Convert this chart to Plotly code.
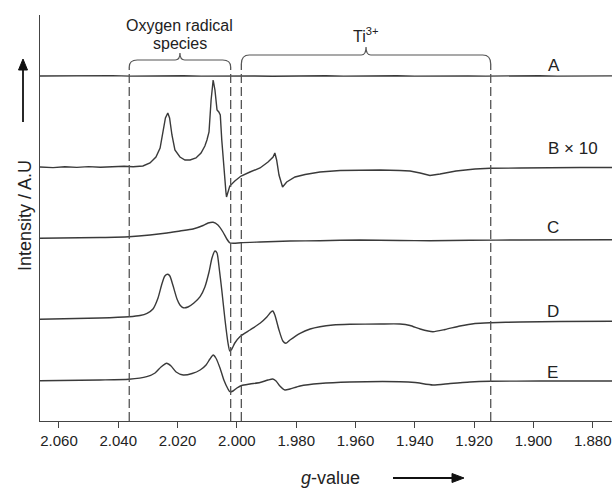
import plotly.graph_objects as go

# ---------------- data (g-value, intensity in arbitrary units) ----------------
A_g = [2.0664, 2.0600, 2.0540, 2.0480, 2.0420, 2.0360, 2.0300, 2.0240, 2.0180, 2.0120,
       2.0060, 2.0000, 1.9940, 1.9880, 1.9820, 1.9760, 1.9700, 1.9640, 1.9580, 1.9520,
       1.9460, 1.9400, 1.9340, 1.9280, 1.9220, 1.9160, 1.9100, 1.9040, 1.8980, 1.8920,
       1.8860, 1.8800, 1.8735]
A_v = [345.0, 345.3, 344.9, 345.2, 345.4, 344.9, 345.2, 345.0, 345.3, 344.9,
       345.1, 345.4, 345.0, 344.8, 345.2, 345.0, 345.3, 344.9, 345.1, 345.0,
       345.3, 344.9, 345.1, 345.3, 345.0, 344.9, 345.2, 345.0, 345.3, 344.9,
       345.1, 345.0, 345.1]

B_g = [2.0664, 2.0620, 2.0580, 2.0540, 2.0500, 2.0460, 2.0420, 2.0380, 2.0350, 2.0317,
       2.0293, 2.0273, 2.0259, 2.0249, 2.0241, 2.0233, 2.0227, 2.0219, 2.0209, 2.0192,
       2.0175, 2.0158, 2.0138, 2.0121, 2.0108, 2.0101, 2.0094, 2.0087, 2.0080, 2.0074,
       2.0067, 2.0061, 2.0056, 2.0051, 2.0044, 2.0037, 2.0035, 2.0031, 2.0024, 2.0007,
       1.9986, 1.9956, 1.9922, 1.9895, 1.9878, 1.9872, 1.9866, 1.9858, 1.9846, 1.9832,
       1.9804, 1.9770, 1.9720, 1.9652, 1.9585, 1.9517, 1.9450, 1.9416, 1.9382, 1.9349,
       1.9315, 1.9261, 1.9197, 1.9146, 1.9045, 1.8944, 1.8843, 1.8735]
B_v = [254.0, 253.4, 254.3, 253.6, 254.4, 253.8, 254.2, 254.7, 254.2, 255.0,
       258.0, 264.0, 273.0, 288.0, 303.0, 308.0, 303.0, 286.0, 271.0, 264.0,
       261.0, 261.0, 263.0, 268.0, 275.0, 281.0, 289.0, 321.0, 341.0, 331.0,
       311.0, 309.0, 306.0, 281.0, 251.0, 229.0, 224.0, 229.0, 235.0, 240.0,
       245.0, 249.0, 253.0, 259.0, 264.0, 268.0, 261.0, 246.0, 234.0, 239.0,
       244.0, 246.5, 249.0, 250.5, 251.0, 251.0, 250.5, 250.0, 248.0, 245.5,
       247.0, 250.0, 252.0, 252.7, 253.0, 253.5, 253.5, 253.5]

C_g = [2.0664, 2.0462, 2.0364, 2.0293, 2.0236, 2.0192, 2.0148, 2.0114, 2.0097, 2.0080,
       2.0064, 2.0047, 2.0034, 2.0023, 2.0010, 1.9986, 1.9922, 1.9821, 1.9720, 1.9585,
       1.9450, 1.9349, 1.9214, 1.9045, 1.8735]
C_v = [182.7, 183.5, 184.3, 186.0, 188.0, 190.0, 192.0, 195.5, 198.0, 198.7,
       196.0, 189.0, 182.0, 178.0, 177.7, 178.3, 179.0, 180.0, 180.3, 181.0,
       180.5, 180.3, 180.7, 181.0, 181.2]

D_g = [2.0664, 2.0462, 2.0364, 2.0327, 2.0303, 2.0283, 2.0266, 2.0253, 2.0243, 2.0233,
       2.0226, 2.0216, 2.0202, 2.0192, 2.0181, 2.0165, 2.0145, 2.0124, 2.0108, 2.0094,
       2.0084, 2.0074, 2.0067, 2.0061, 2.0051, 2.0040, 2.0030, 2.0024, 2.0017, 2.0007,
       1.9990, 1.9956, 1.9922, 1.9899, 1.9885, 1.9879, 1.9872, 1.9858, 1.9845, 1.9835,
       1.9821, 1.9787, 1.9753, 1.9720, 1.9676, 1.9619, 1.9517, 1.9450, 1.9416, 1.9382,
       1.9339, 1.9298, 1.9248, 1.9197, 1.9144, 1.9045, 1.8910, 1.8735]
D_v = [101.7, 103.0, 104.3, 105.5, 107.7, 112.0, 123.0, 137.0, 145.0, 146.7,
       145.0, 136.0, 122.0, 116.0, 113.3, 114.0, 118.0, 124.3, 134.0, 149.0,
       163.0, 170.0, 168.0, 156.0, 131.0, 101.0, 78.0, 70.0, 72.0, 78.0,
       84.3, 91.0, 97.7, 104.0, 109.0, 110.0, 106.0, 91.0, 80.0, 77.7,
       81.0, 87.7, 92.0, 94.3, 96.0, 96.7, 97.0, 97.0, 95.5, 92.0,
       89.3, 91.5, 95.0, 97.5, 98.3, 99.0, 99.5, 99.7]

E_g = [2.0664, 2.0462, 2.0364, 2.0304, 2.0276, 2.0256, 2.0237, 2.0222, 2.0205, 2.0181,
       2.0151, 2.0124, 2.0104, 2.0091, 2.0080, 2.0071, 2.0057, 2.0044, 2.0030, 2.0024,
       2.0013, 2.0000, 1.9984, 1.9956, 1.9922, 1.9895, 1.9879, 1.9868, 1.9855, 1.9838,
       1.9821, 1.9787, 1.9720, 1.9619, 1.9450, 1.9399, 1.9339, 1.9281, 1.9214, 1.9146,
       1.8978, 1.8735]
E_v = [40.3, 41.0, 41.7, 44.3, 48.0, 54.0, 57.7, 55.0, 49.0, 46.0,
       47.5, 51.0, 56.0, 62.0, 66.0, 63.0, 53.0, 41.0, 32.0, 29.3,
       30.0, 33.0, 35.5, 37.0, 38.5, 41.0, 42.0, 40.0, 35.0, 31.0,
       32.0, 35.0, 37.5, 39.0, 39.3, 38.5, 36.0, 37.5, 39.0, 39.7,
       40.0, 40.0]

trace_labels = ["A", "B \u00d7 10", "C", "D", "E"]
label_g = [1.8930, 1.8867, 1.8934, 1.8934, 1.8934]
label_v = [356, 273, 194, 110, 49]

tick_vals = [2.060, 2.040, 2.020, 2.000, 1.980, 1.960, 1.940, 1.920, 1.900, 1.880]
tick_text = ["2.060", "2.040", "2.020", "2.000", "1.980", "1.960", "1.940", "1.920", "1.900", "1.880"]

# region boundaries (dashed lines) and their labels
regions = [(2.0363, 2.0021), (1.9985, 1.9144)]
region_bar = [361, 366]
region_end = [354, 357]
region_tip = [368, 374]

LINE = "#3a3a3a"
TEXT = "#222222"
FONT = "Arial, Liberation Sans, sans-serif"

# plot area geometry in pixels (for paper-positioned decorations)
W, H = 612, 488
ML, MR, MT, MB = 40, 0, 15, 67
PW, PH = W - ML - MR, H - MT - MB


def px(x):
    return (x - ML) / PW


def py(y):
    return (H - MB - y) / PH


fig = go.Figure()
for gx, vy, shp in [(A_g, A_v, "linear"), (B_g, B_v, "linear"), (C_g, C_v, "spline"),
                    (D_g, D_v, "spline"), (E_g, E_v, "spline")]:
    line = dict(color=LINE, width=1.4, shape=shp)
    if shp == "spline":
        line["smoothing"] = 0.6
    fig.add_trace(go.Scatter(x=gx, y=vy, mode="lines", line=line,
                             showlegend=False, hoverinfo="skip"))

shapes = []
for (g0, g1), ybar, yend, ytip in zip(regions, region_bar, region_end, region_tip):
    for gv in (g0, g1):
        shapes.append(dict(type="line", xref="x", yref="y", x0=gv, x1=gv, y0=0, y1=yend,
                           line=dict(color="#555555", width=1.3, dash="9px,4px")))
    gc = (g0 + g1) / 2
    r = 0.0027
    rc = 0.0016
    path = (f"M {g0},{yend} Q {g0},{ybar} {g0 - r},{ybar} L {gc + rc},{ybar} "
            f"Q {gc},{ybar} {gc},{ytip} Q {gc},{ybar} {gc - rc},{ybar} "
            f"L {g1 + r},{ybar} Q {g1},{ybar} {g1},{yend}")
    shapes.append(dict(type="path", xref="x", yref="y", path=path,
                       line=dict(color="#555555", width=1.2)))

# axis arrows (drawn as shapes)
ARW = "#111111"
shapes.append(dict(type="line", xref="paper", yref="paper",
                   x0=px(23), x1=px(23), y0=py(122), y1=py(68),
                   line=dict(color=ARW, width=1.8)))
shapes.append(dict(type="path", xref="paper", yref="paper",
                   path=f"M {px(23)},{py(59)} L {px(18.5)},{py(70)} L {px(27.5)},{py(70)} Z",
                   fillcolor=ARW, line=dict(color=ARW, width=1)))
shapes.append(dict(type="line", xref="paper", yref="paper",
                   x0=px(393), x1=px(455), y0=py(478), y1=py(478),
                   line=dict(color=ARW, width=1.8)))
shapes.append(dict(type="path", xref="paper", yref="paper",
                   path=f"M {px(464)},{py(478)} L {px(452)},{py(473.5)} L {px(452)},{py(482.5)} Z",
                   fillcolor=ARW, line=dict(color=ARW, width=1)))

annotations = []
for t, gx, vy in zip(trace_labels, label_g, label_v):
    annotations.append(dict(x=gx, y=vy, xref="x", yref="y", text=t, showarrow=False,
                            xanchor="center", yanchor="middle",
                            font=dict(size=17, color=TEXT, family=FONT)))

annotations.append(dict(x=(regions[0][0] + regions[0][1]) / 2, y=396, xref="x", yref="y",
                        text="Oxygen radical", showarrow=False,
                        xanchor="center", yanchor="middle",
                        font=dict(size=16, color=TEXT, family=FONT)))
annotations.append(dict(x=(regions[0][0] + regions[0][1]) / 2, y=378, xref="x", yref="y",
                        text="species", showarrow=False,
                        xanchor="center", yanchor="middle",
                        font=dict(size=16, color=TEXT, family=FONT)))
annotations.append(dict(x=(regions[1][0] + regions[1][1]) / 2, y=386, xref="x", yref="y",
                        text="Ti<sup>3+</sup>", showarrow=False,
                        xanchor="center", yanchor="middle",
                        font=dict(size=16, color=TEXT, family=FONT)))

# axis titles
annotations.append(dict(x=px(25), y=py(216), xref="paper", yref="paper",
                        text="Intensity / A.U", textangle=-90, showarrow=False,
                        xanchor="center", yanchor="middle",
                        font=dict(size=18, color=TEXT, family=FONT)))
annotations.append(dict(x=px(330), y=py(478), xref="paper", yref="paper",
                        text="<i>g</i>-value", showarrow=False,
                        xanchor="center", yanchor="middle",
                        font=dict(size=18, color=TEXT, family=FONT)))

fig.update_layout(
    width=W, height=H,
    margin=dict(l=ML, r=MR, t=MT, b=MB),
    paper_bgcolor="white", plot_bgcolor="white",
    shapes=shapes, annotations=annotations,
    xaxis=dict(range=[2.0664, 1.8735], showline=True, linecolor="#444444", linewidth=1.3,
               ticks="outside", ticklen=6, tickwidth=1.3, tickcolor="#444444",
               tickvals=tick_vals, ticktext=tick_text, showgrid=False, zeroline=False,
               tickfont=dict(size=15, color=TEXT, family=FONT)),
    yaxis=dict(range=[0, 406], showline=True, linecolor="#444444", linewidth=1.3,
               showticklabels=False, ticks="", showgrid=False, zeroline=False),
)

fig.write_html("out.html")
